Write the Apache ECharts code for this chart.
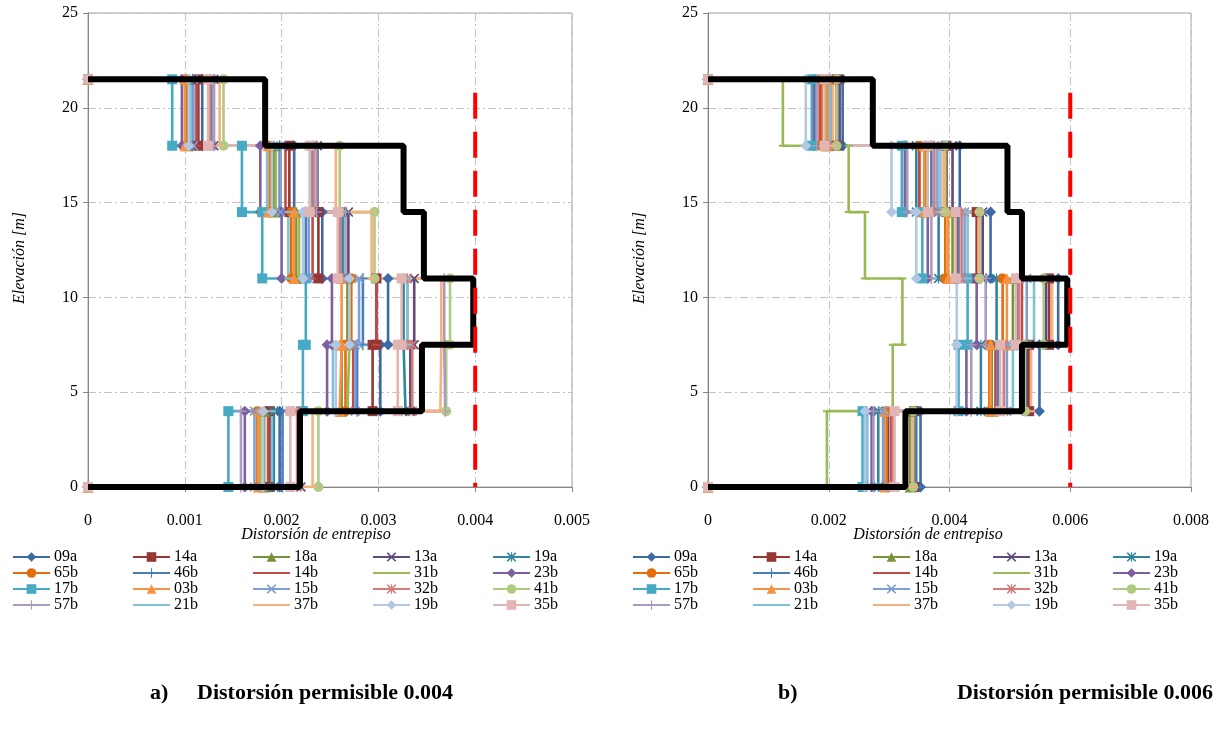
<!DOCTYPE html>
<html><head><meta charset="utf-8">
<script src="https://cdn.jsdelivr.net/npm/echarts@6/dist/echarts.min.js"></script>
<style>html,body{margin:0;padding:0;background:#fff}#c{width:1223px;height:740px}</style>
</head><body><div id="c"></div>
<script>
// ---------------- DATA ----------------
const recordNames = ['09a','14a','18a','13a','19a','65b','46b','14b','31b','23b','17b','03b','15b','32b','41b','57b','21b','37b','19b','35b'];
const elevations = [0, 4, 7.5, 11, 14.5, 18, 21.5];

// Panel a: story drifts (story 1 = 0-4 m ... story 6 = 18-21.5 m), one value per record
const driftA1 = [0.00198,0.00188,0.00182,0.00220,0.00192,0.00175,0.00201,0.00186,0.00178,0.00162,0.00145,0.00176,0.00172,0.00216,0.00238,0.00158,0.00190,0.00232,0.00181,0.00209];
const driftA2 = [0.00302,0.00294,0.00262,0.00333,0.00328,0.00266,0.00278,0.00274,0.00268,0.00247,0.00222,0.00260,0.00276,0.00335,0.00370,0.00369,0.00253,0.00364,0.00256,0.00320];
const driftA3 = [0.00310,0.00298,0.00268,0.00337,0.00326,0.00272,0.00284,0.00298,0.00270,0.00252,0.00225,0.00262,0.00280,0.00330,0.00374,0.00368,0.00330,0.00365,0.00270,0.00324];
const driftA4 = [0.00242,0.00238,0.00215,0.00269,0.00263,0.00210,0.00225,0.00232,0.00218,0.00200,0.00180,0.00213,0.00228,0.00260,0.00296,0.00266,0.00207,0.00293,0.00222,0.00258];
const driftA5 = [0.00213,0.00208,0.00192,0.00237,0.00232,0.00188,0.00198,0.00204,0.00194,0.00178,0.00159,0.00186,0.00199,0.00233,0.00260,0.00236,0.00185,0.00256,0.00190,0.00229];
const driftA6 = [0.00118,0.00114,0.00103,0.00130,0.00127,0.00101,0.00108,0.00112,0.00105,0.00097,0.00087,0.00100,0.00109,0.00126,0.00140,0.00130,0.00106,0.00136,0.00104,0.00124];

// Panel b
const driftB1 = [0.00352,0.00342,0.00335,0.00298,0.00282,0.00296,0.00345,0.00303,0.00197,0.00271,0.00256,0.00293,0.00290,0.00306,0.00340,0.00274,0.00264,0.00338,0.00260,0.00309];
const driftB2 = [0.00549,0.00532,0.00470,0.00528,0.00452,0.00466,0.00480,0.00476,0.00306,0.00428,0.00415,0.00468,0.00495,0.00490,0.00525,0.00436,0.00505,0.00535,0.00412,0.00484];
const driftB3 = [0.00580,0.00565,0.00505,0.00560,0.00478,0.00488,0.00512,0.00520,0.00322,0.00445,0.00430,0.00495,0.00528,0.00515,0.00556,0.00460,0.00540,0.00570,0.00412,0.00510];
const driftB4 = [0.00468,0.00445,0.00405,0.00455,0.00382,0.00393,0.00415,0.00412,0.00260,0.00364,0.00355,0.00398,0.00425,0.00420,0.00450,0.00370,0.00430,0.00448,0.00345,0.00410];
const driftB5 = [0.00417,0.00395,0.00360,0.00405,0.00345,0.00350,0.00370,0.00350,0.00233,0.00326,0.00321,0.00358,0.00380,0.00375,0.00393,0.00330,0.00385,0.00390,0.00304,0.00364];
const driftB6 = [0.00223,0.00213,0.00195,0.00218,0.00177,0.00188,0.00200,0.00185,0.00124,0.00175,0.00172,0.00198,0.00205,0.00203,0.00213,0.00180,0.00202,0.00207,0.00162,0.00193];

// Envelopes (story 1..6)
const envelopeA = [0.00219,0.00345,0.00398,0.00347,0.00326,0.00183];
const envelopeB = [0.00327,0.00520,0.00595,0.00520,0.00496,0.00273];

const limitA = 0.004;
const limitB = 0.006;
const limitTopElevation = 20.8;

const xTicksA = {min: 0, max: 0.005, step: 0.001};
const xTicksB = {min: 0, max: 0.008, step: 0.002};
const yTicks = {min: 0, max: 25, step: 5};

// ---------------- STYLES ----------------
const X_PATH = 'path://M1.2,0L5,3.8L8.8,0L10,1.2L6.2,5L10,8.8L8.8,10L5,6.2L1.2,10L0,8.8L3.8,5L0,1.2Z';
const PLUS_PATH = 'path://M4.4,0H5.6V4.4H10V5.6H5.6V10H4.4V5.6H0V4.4H4.4Z';
const STAR_PATH = 'path://M1.2,0L5,3.8L8.8,0L10,1.2L6.2,5L10,8.8L8.8,10L5,6.2L1.2,10L0,8.8L3.8,5L0,1.2Z M4.4,0H5.6V10H4.4Z';
const DASH_PATH = 'path://M0,0L0.01,0M10,10L9.99,10M1,4H9V6H1Z';
const colors = ['#3B6AA6','#953735','#77933C','#604A7B','#31859C','#E46C0A','#4A7EBB','#BE4B48','#98B954','#7D60A0',
                '#46AAC5','#F69240','#7E9FD3','#D77B7A','#AFCB83','#A99BBD','#7FC2D6','#F9B081','#B3C6E3','#E0B5B4'];
const symbols = ['diamond','rect','triangle',X_PATH,STAR_PATH,'circle',PLUS_PATH,DASH_PATH,DASH_PATH,'diamond',
                 'rect','triangle',X_PATH,STAR_PATH,'circle',PLUS_PATH,DASH_PATH,DASH_PATH,'diamond','rect'];
const symSizes = [11,10,11,10,10,10,11,10,10,11, 10,11,10,10,10,11,10,10,11,10];

function stepPoints(d) { // d = [d1..d6]
  const pts = [[0, elevations[6]]];
  for (let s = 6; s >= 1; s--) {
    pts.push([d[s-1], elevations[s]]);
    pts.push([d[s-1], elevations[s-1]]);
  }
  pts.push([0, 0]);
  return pts;
}

const storiesA = [driftA1, driftA2, driftA3, driftA4, driftA5, driftA6];
const storiesB = [driftB1, driftB2, driftB3, driftB4, driftB5, driftB6];

const series = [];
function addPanel(stories, env, limit, idx) {
  recordNames.forEach((n, i) => {
    series.push({
      name: n, type: 'line', xAxisIndex: idx, yAxisIndex: idx,
      data: stepPoints(stories.map(s => s[i])),
      symbol: symbols[i], symbolSize: symSizes[i], showAllSymbol: true,
      lineStyle: {color: colors[i], width: 2.6},
      itemStyle: {color: colors[i]},
      emphasis: {disabled: true}, z: 2
    });
  });
  series.push({
    name: 'envolvente' + idx, type: 'line', xAxisIndex: idx, yAxisIndex: idx,
    data: stepPoints(env), symbol: 'none',
    lineStyle: {color: '#000', width: 6}, z: 3, emphasis: {disabled: true}
  });
  series.push({
    name: 'limite' + idx, type: 'line', xAxisIndex: idx, yAxisIndex: idx,
    data: [[limit, limitTopElevation], [limit, 0]], symbol: 'none',
    lineStyle: {color: '#FF0000', width: 4, type: [26, 13]}, z: 4, emphasis: {disabled: true}
  });
}
addPanel(storiesA, envelopeA, limitA, 0);
addPanel(storiesB, envelopeB, limitB, 1);

const FONT = 'Liberation Serif';
const gridLine = {show: true, lineStyle: {color: '#C4C4C4', width: 1, type: [8, 3, 2, 3]}};
const axisLine = {show: true, lineStyle: {color: '#868686', width: 1}};
function xAxis(t, idx) {
  return {type: 'value', gridIndex: idx, min: t.min, max: t.max, interval: t.step,
    axisLine: axisLine, axisTick: {show: true, length: 5, lineStyle: {color: '#868686'}},
    splitLine: gridLine,
    axisLabel: {fontFamily: FONT, fontSize: 16, color: '#000', margin: 26,
      formatter: v => (v === 0 ? '0' : v.toFixed(3))}};
}
function yAxis(idx) {
  return {type: 'value', gridIndex: idx, min: yTicks.min, max: yTicks.max, interval: yTicks.step,
    axisLine: axisLine, axisTick: {show: true, length: 5, lineStyle: {color: '#868686'}},
    splitLine: gridLine,
    axisLabel: {fontFamily: FONT, fontSize: 16, color: '#000', margin: 10}};
}

const legends = [];
[12, 632].forEach(x0 => {
  for (let c = 0; c < 5; c++) {
    legends.push({
      orient: 'vertical', left: x0 + c * 120, top: 549, padding: 0, itemGap: 0,
      itemWidth: 37, itemHeight: 12, selectedMode: false,
      data: [0, 1, 2, 3].map(r => recordNames[r * 5 + c]),
      textStyle: {fontFamily: FONT, fontSize: 16, color: '#000', lineHeight: 16, padding: [0, 0, 0, -1]}
    });
  }
});

const txt = (x, y, s, extra) => Object.assign({type: 'text', x: x, y: y,
  style: Object.assign({text: s, fontFamily: FONT, fontSize: 16, fill: '#000', fontStyle: 'italic',
    textAlign: 'center', textVerticalAlign: 'middle'}, extra || {})});
const cap = {fontStyle: 'normal', fontWeight: 'bold', fontSize: 22, textAlign: 'left'};

const chart = echarts.init(document.getElementById('c'), null, {renderer: 'canvas'});
chart.setOption({
  animation: false,
  backgroundColor: '#fff',
  grid: [
    {left: 88, top: 13, width: 484, height: 474, show: true, borderColor: '#A6A6A6', borderWidth: 1},
    {left: 708, top: 13, width: 483, height: 474, show: true, borderColor: '#A6A6A6', borderWidth: 1}
  ],
  xAxis: [xAxis(xTicksA, 0), xAxis(xTicksB, 1)],
  yAxis: [yAxis(0), yAxis(1)],
  legend: legends,
  series: series,
  graphic: [
    txt(316, 535, 'Distorsión de entrepiso'),
    txt(928, 535, 'Distorsión de entrepiso'),
    Object.assign(txt(20, 258, 'Elevación [m]'), {rotation: Math.PI / 2}),
    Object.assign(txt(640, 258, 'Elevación [m]'), {rotation: Math.PI / 2}),
    txt(150, 693, 'a)', cap),
    txt(197, 693, 'Distorsión permisible 0.004', cap),
    txt(778, 693, 'b)', cap),
    txt(1213, 693, 'Distorsión permisible 0.006', Object.assign({}, cap, {textAlign: 'right'}))
  ]
});
</script></body></html>
